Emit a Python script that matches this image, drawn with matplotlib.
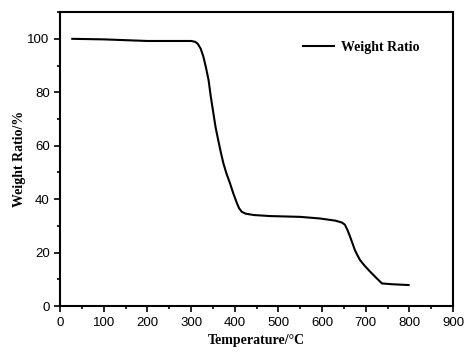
import matplotlib.pyplot as plt
from matplotlib.ticker import MultipleLocator

temperature = [28, 100, 200, 300, 309, 315, 322, 328, 334, 340, 345, 351, 356,
               362, 368, 374, 381, 389, 397, 405, 410, 416, 425, 443, 481,
               550, 595, 630, 645, 652, 658, 664, 670, 675, 681, 687,
               698, 710, 724, 737, 760, 798]
weight_ratio = [100, 99.8, 99.2, 99.2, 98.9, 98.2, 96.3, 93.4, 89.3, 84.6, 78.5, 72.2, 67,
                62.2, 57.6, 53.4, 49.6, 46, 42, 38.5, 36.6, 35.3, 34.6, 34.1, 33.7,
                33.4, 32.8, 32.0, 31.3, 30.5, 28.5, 26, 23.3, 21, 19, 17.2,
                15, 12.9, 10.6, 8.5, 8.2, 7.9]

fig = plt.figure(figsize=(4.73, 3.56), dpi=100)
ax = fig.add_axes([0.127, 0.140, 0.831, 0.826])

ax.plot(temperature, weight_ratio, color='black', linewidth=1.5, label='Weight Ratio')

ax.set_xlim(0, 900)
ax.set_ylim(0, 110)
ax.xaxis.set_major_locator(MultipleLocator(100))
ax.xaxis.set_minor_locator(MultipleLocator(50))
ax.yaxis.set_major_locator(MultipleLocator(20))
ax.yaxis.set_minor_locator(MultipleLocator(10))
ax.tick_params(which='both', direction='out', top=False, right=False, width=1.2)
ax.tick_params(which='major', length=4, labelsize=9.5)
ax.tick_params(which='minor', length=2.5)
for lab in ax.get_xticklabels() + ax.get_yticklabels():
    lab.set_fontfamily('Liberation Sans')
for s in ax.spines.values():
    s.set_linewidth(1.5)

ax.set_xlabel('Temperature/°C', fontfamily='Liberation Serif', fontweight='bold', fontsize=10)
ax.set_ylabel('Weight Ratio/%', fontfamily='Liberation Serif', fontweight='bold', fontsize=10,
              labelpad=1)

ax.legend(loc='upper right', frameon=False, handlelength=2.2, handletextpad=0.5,
          prop={'family': 'Liberation Serif', 'weight': 'bold', 'size': 10},
          bbox_to_anchor=(0.945, 0.945))

fig.savefig('out.png', dpi=100)
